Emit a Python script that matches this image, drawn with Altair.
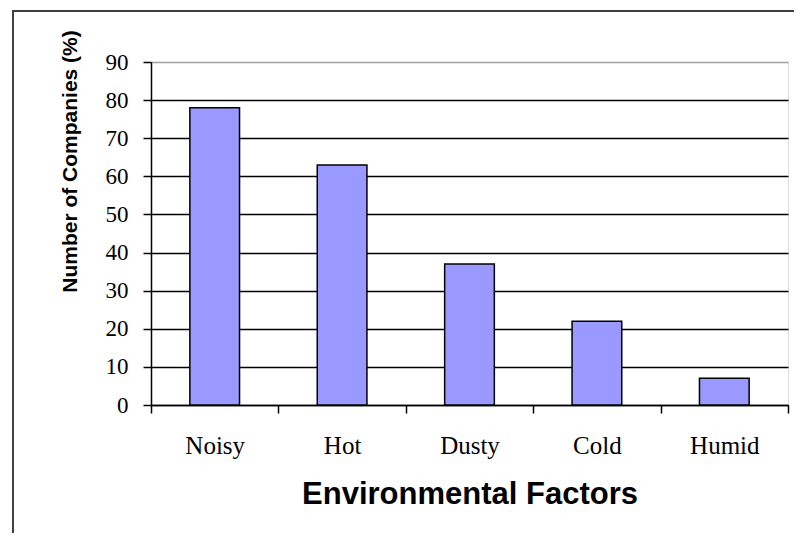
import altair as alt
import pandas as pd

factors = ["Noisy", "Hot", "Dusty", "Cold", "Humid"]
percent = [78, 63, 37, 22, 7]
y_ticks = [0, 10, 20, 30, 40, 50, 60, 70, 80, 90]

df = pd.DataFrame({"factor": factors, "percent": percent})

bars = alt.Chart(df).mark_bar(
    width=alt.RelativeBandSize(0.39),
    color="#9999FF",
    stroke="black",
    strokeWidth=1.5,
).encode(
    x=alt.X(
        "factor:N",
        sort=factors,
        scale=alt.Scale(paddingInner=0, paddingOuter=0),
        axis=alt.Axis(
            title="Environmental Factors",
            labelAngle=0,
            labelFont="Liberation Serif",
            labelFontSize=25,
            labelColor="black",
            labelPadding=20,
            labelBaseline="top",
            tickBand="extent",
            tickSize=8,
            tickColor="black",
            tickWidth=1.5,
            domainColor="black",
            domainWidth=1.5,
            grid=False,
            titleFont="Liberation Sans",
            titleFontWeight="bold",
            titleFontSize=31,
            titleColor="black",
            titleBaseline="alphabetic",
            titleY=98,
        ),
    ),
    y=alt.Y(
        "percent:Q",
        scale=alt.Scale(domain=[0, 90], nice=False),
        axis=alt.Axis(
            title="Number of Companies (%)",
            values=y_ticks,
            labelFont="Liberation Serif",
            labelFontSize=23,
            labelColor="black",
            labelPadding=15,
            tickSize=8,
            tickColor="black",
            tickWidth=1.5,
            domainColor="black",
            domainWidth=1.5,
            grid=True,
            gridColor=alt.condition("datum.value >= 90", alt.value("#a0a0a0"), alt.value("black")),
            gridWidth=1.5,
            titleFont="Liberation Sans",
            titleFontWeight="bold",
            titleFontSize=21,
            titleColor="black",
            titleAngle=270,
            titleAlign="center",
            titleBaseline="alphabetic",
            titleX=-75,
            titleY=99,
        ),
    ),
)

frame = alt.Chart(df).mark_rect(
    fill=None, filled=False, stroke="#404040", strokeWidth=2
).encode(
    x=alt.value(-138), x2=alt.value(720),
    y=alt.value(-51), y2=alt.value(620),
)

chart = alt.layer(bars, frame).properties(
    width=637,
    height=343,
    padding={"left": 143, "top": 54, "right": 6, "bottom": 128},
    autosize="none",
).configure_view(
    stroke="#a0a0a0", strokeWidth=1.5
).configure(background="white")

chart.save("out.html", embed_options={"renderer": "svg", "actions": False})
